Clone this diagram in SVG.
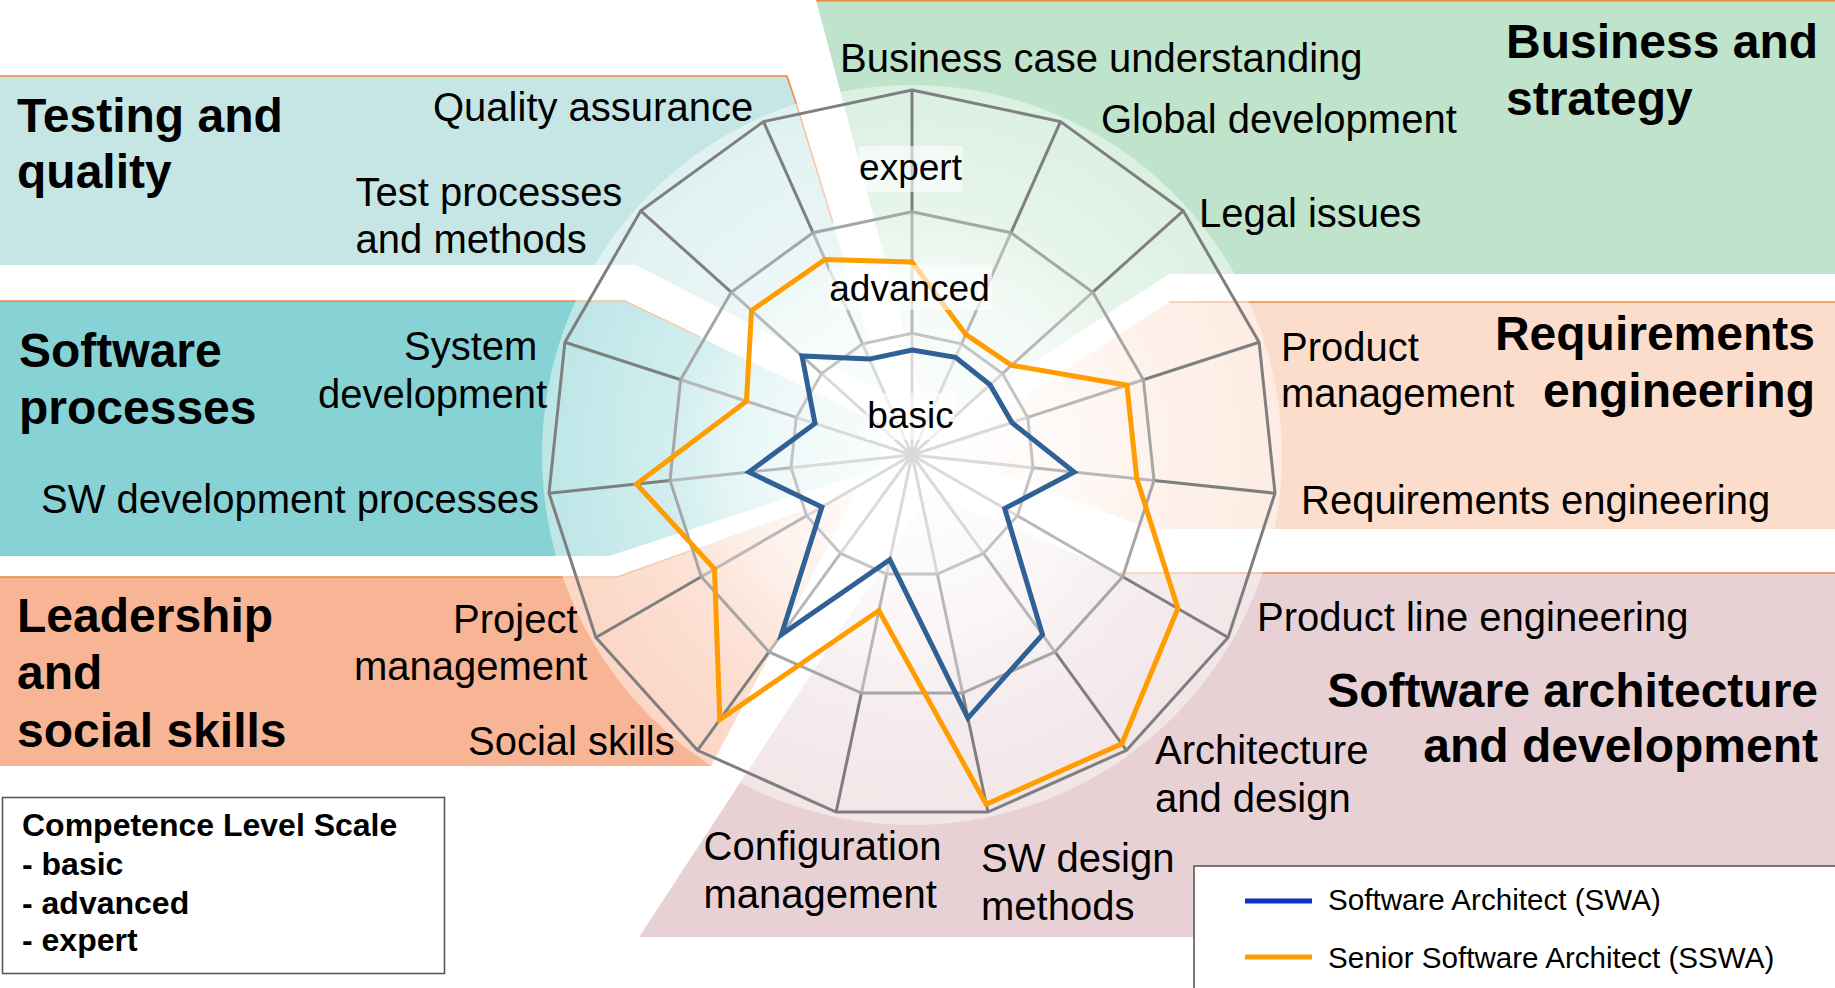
<svg xmlns="http://www.w3.org/2000/svg" width="1835" height="988" viewBox="0 0 1835 988">
<defs>
<radialGradient id="halo" gradientUnits="userSpaceOnUse" cx="912" cy="455" r="370">
<stop offset="0" stop-color="#fff" stop-opacity="0.96"/>
<stop offset="0.33" stop-color="#fff" stop-opacity="0.88"/>
<stop offset="0.5" stop-color="#fff" stop-opacity="0.78"/>
<stop offset="0.66" stop-color="#fff" stop-opacity="0.62"/>
<stop offset="0.85" stop-color="#fff" stop-opacity="0.52"/>
<stop offset="1" stop-color="#fff" stop-opacity="0.45"/>
</radialGradient>
<style>
.t{font-family:"Liberation Sans",Arial,sans-serif;fill:#000}
.title{font-size:48px;font-weight:bold}
.ax{font-size:40px}
.lvl{font-size:37px;text-anchor:middle}
.lg1{font-size:32px;font-weight:bold}
.lg2{font-size:29.6px}
.end{text-anchor:end}
.edge{fill:none;stroke:#f0883e;stroke-width:1.6}
.grid{fill:none;stroke-width:3}
.box{fill:#fff;stroke:#595959;stroke-width:1.6}
</style>
</defs>
<rect width="1835" height="988" fill="#fff"/>
<g id="regions">
<polygon id="bg-testing" points="0,76 787,76 797,106 886,394 636,265 0,265" fill="#c6e5e5"/>
<polyline class="edge" points="0,76 787,76 797,106 833,223"/>
<polygon id="bg-processes" points="0,301 625,301 880,424 880,468 609,556 0,556" fill="#87d2d4"/>
<polyline class="edge" points="0,301 625,301 700,337"/>
<polygon id="bg-leadership" points="0,577 617,577 857,491 711,766 0,766" fill="#f8b595"/>
<polyline class="edge" points="0,577 617,577 690,551"/>
<polygon id="bg-architecture" points="1835,573 1120,573 930,493 639,937 1835,937" fill="#e8d1d4"/>
<polyline class="edge" points="1835,573 1120,573"/>
<polygon id="bg-requirements" points="1835,302 1169,302 940,451 1150,529 1835,529" fill="#fcddcc"/>
<polyline class="edge" points="1835,302 1169,302"/>
<polygon id="bg-business" points="816,0 1835,0 1835,274 1169,274 930,429" fill="#bfe4cb"/>
<polyline class="edge" points="816,0.8 1835,0.8"/>
</g>
<g id="radar-chart">
<circle cx="912" cy="455" r="370" fill="url(#halo)"/>
<path class="grid" stroke="#dadada" d="M912 455L912 333.3M912 455L961.5 343.9M912 455L1002.4 373.6M912 455L1027.7 417.4M912 455L1033 467.7M912 455L1017.4 515.8M912 455L983.5 553.4M912 455L937.3 574M912 455L886.7 574M912 455L840.5 553.4M912 455L806.6 515.8M912 455L791 467.7M912 455L796.3 417.4M912 455L821.6 373.6M912 455L862.5 343.9"/>
<path class="grid" stroke="#b8b8b8" d="M912 333.3L912 211.7M961.5 343.9L1011 232.7M1002.4 373.6L1092.8 292.2M1027.7 417.4L1143.4 379.8M1033 467.7L1154 480.4M1017.4 515.8L1122.7 576.7M983.5 553.4L1055 651.9M937.3 574L962.6 693M886.7 574L861.4 693M840.5 553.4L769 651.9M806.6 515.8L701.3 576.7M791 467.7L670 480.4M796.3 417.4L680.6 379.8M821.6 373.6L731.2 292.2M862.5 343.9L813 232.7"/>
<path class="grid" stroke="#7f7f7f" d="M912 211.7L912 90M1011 232.7L1060.5 121.6M1092.8 292.2L1183.2 210.8M1143.4 379.8L1259.1 342.2M1154 480.4L1275 493.2M1122.7 576.7L1228.1 637.5M1055 651.9L1126.5 750.3M962.6 693L987.9 812M861.4 693L836.1 812M769 651.9L697.5 750.3M701.3 576.7L595.9 637.5M670 480.4L549 493.2M680.6 379.8L564.9 342.2M731.2 292.2L640.8 210.8M813 232.7L763.5 121.6"/>
<polygon class="grid" stroke="#c4c4c4" points="912,333.3 961.5,343.9 1002.4,373.6 1027.7,417.4 1033,467.7 1017.4,515.8 983.5,553.4 937.3,574 886.7,574 840.5,553.4 806.6,515.8 791,467.7 796.3,417.4 821.6,373.6 862.5,343.9"/>
<polygon class="grid" stroke="#a6a6a6" points="912,211.7 1011,232.7 1092.8,292.2 1143.4,379.8 1154,480.4 1122.7,576.7 1055,651.9 962.6,693 861.4,693 769,651.9 701.3,576.7 670,480.4 680.6,379.8 731.2,292.2 813,232.7"/>
<polygon class="grid" stroke="#7f7f7f" stroke-width="3.5" points="912,90 1060.5,121.6 1183.2,210.8 1259.1,342.2 1275,493.2 1228.1,637.5 1126.5,750.3 987.9,812 836.1,812 697.5,750.3 595.9,637.5 549,493.2 564.9,342.2 640.8,210.8 763.5,121.6"/>
</g>
<g id="connectors">
<polygon id="series-swa" fill="none" stroke="#2f6096" stroke-width="5" points="912,350 955.5,357.3 990,384.7 1011.9,422.6 1074.1,472 1004.7,508.5 1042.5,634.6 967.9,718.1 889.8,559.7 781.5,634.6 821.9,507 748.9,472.1 815,423.5 802,356 869.3,359.1"/>
<polygon id="series-sswa" fill="none" stroke="#ff9c00" stroke-width="5" points="912,262 965.7,334.4 1011.6,365.3 1126.9,385.2 1136.8,478.6 1177.9,608.5 1121.8,743.8 986.2,804.2 878.9,610.5 719.8,719.5 714.5,569 636.5,484 746.5,401.2 751.5,310.5 825,259.5"/>
</g>
<g id="level-labels">
<rect x="858.5" y="146" width="104" height="46" fill="#fff" fill-opacity="0.6"/>
<rect x="829" y="265" width="163" height="45" fill="#fff" fill-opacity="0.6"/>
<rect x="865.6" y="393" width="89" height="47" fill="#fff" fill-opacity="0.6"/>
<text class="t lvl" x="910.5" y="180">expert</text>
<text class="t lvl" x="909.5" y="300.5">advanced</text>
<text class="t lvl" x="910.5" y="428">basic</text>
</g>
<g id="node-testing">
<text class="t title" x="17" y="132">Testing and</text>
<text class="t title" x="17" y="188">quality</text>
<text class="t ax" x="433" y="121">Quality assurance</text>
<text class="t ax" x="355.6" y="206">Test processes</text>
<text class="t ax" x="355.6" y="253">and methods</text>
</g>
<g id="node-processes">
<text class="t title" x="19" y="367">Software</text>
<text class="t title" x="19" y="424">processes</text>
<text class="t ax" x="404" y="360">System</text>
<text class="t ax" x="318" y="408">development</text>
<text class="t ax" x="41" y="513">SW development processes</text>
</g>
<g id="node-leadership">
<text class="t title" x="17" y="632">Leadership</text>
<text class="t title" x="17" y="689">and</text>
<text class="t title" x="17" y="747">social skills</text>
<text class="t ax" x="453" y="633">Project</text>
<text class="t ax" x="354" y="680">management</text>
<text class="t ax" x="468" y="755">Social skills</text>
</g>
<g id="node-business">
<text class="t title" x="1506" y="58">Business and</text>
<text class="t title" x="1506" y="115">strategy</text>
<text class="t ax" x="840" y="71.5">Business case understanding</text>
<text class="t ax" x="1101" y="132.5">Global development</text>
<text class="t ax" x="1199" y="227">Legal issues</text>
</g>
<g id="node-requirements">
<text class="t title end" x="1815" y="350">Requirements</text>
<text class="t title end" x="1815" y="407">engineering</text>
<text class="t ax" x="1281" y="361">Product</text>
<text class="t ax" x="1281" y="407">management</text>
<text class="t ax" x="1301" y="514">Requirements engineering</text>
</g>
<g id="node-architecture">
<text class="t title end" x="1818" y="707">Software architecture</text>
<text class="t title end" x="1818" y="762">and development</text>
<text class="t ax" x="1257" y="631">Product line engineering</text>
<text class="t ax" x="1155" y="763.5">Architecture</text>
<text class="t ax" x="1155" y="812">and design</text>
<text class="t ax" x="981" y="872">SW design</text>
<text class="t ax" x="981" y="920">methods</text>
<text class="t ax" x="703.5" y="860">Configuration</text>
<text class="t ax" x="703.5" y="908">management</text>
</g>
<g id="legend-scale">
<rect class="box" x="2.5" y="797.5" width="442" height="176"/>
<text class="t lg1" x="22" y="836">Competence Level Scale</text>
<text class="t lg1" x="22" y="875">- basic</text>
<text class="t lg1" x="22" y="914">- advanced</text>
<text class="t lg1" x="22" y="951">- expert</text>
</g>
<g id="legend-series">
<rect class="box" x="1194" y="866" width="645" height="130"/>
<line x1="1245" y1="901" x2="1312" y2="901" stroke="#0a35cc" stroke-width="5"/>
<text class="t lg2" x="1328" y="910">Software Architect (SWA)</text>
<line x1="1245" y1="957" x2="1312" y2="957" stroke="#ff9c00" stroke-width="5"/>
<text class="t lg2" x="1328" y="968">Senior Software Architect (SSWA)</text>
</g>
</svg>
